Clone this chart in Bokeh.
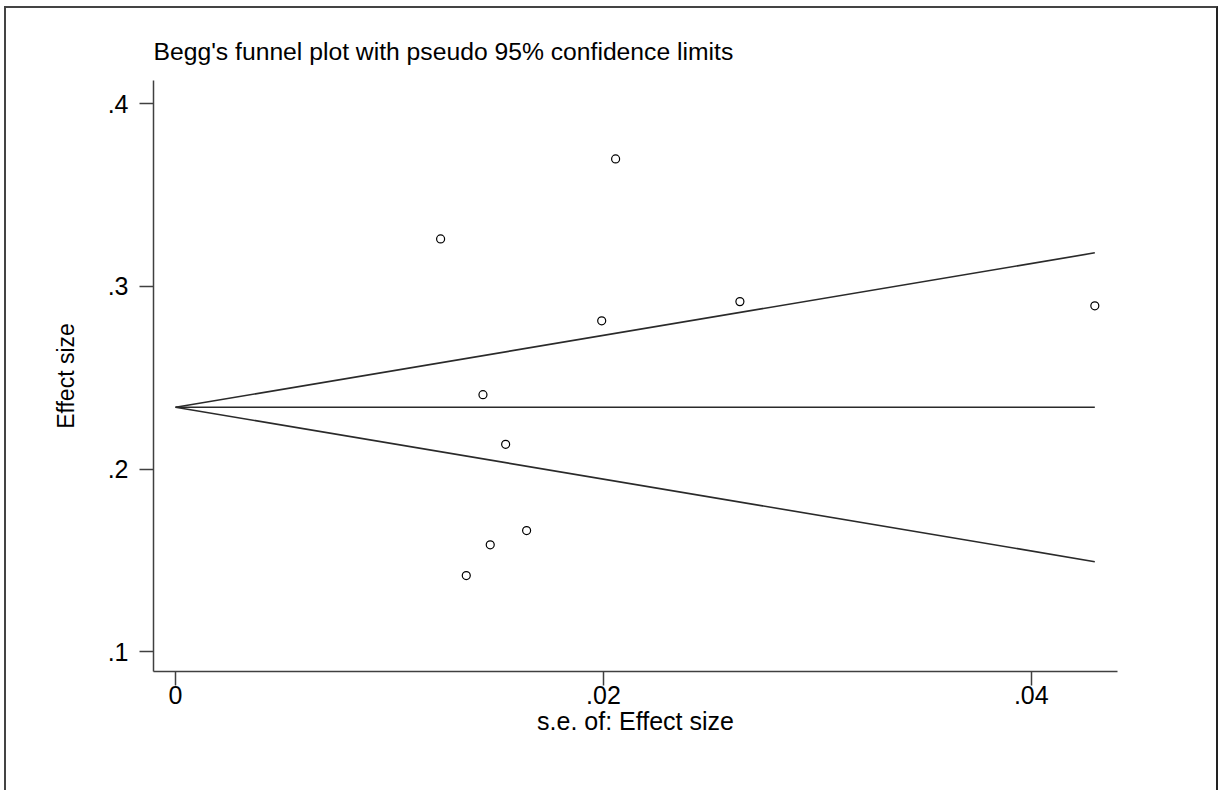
from bokeh.plotting import figure
from bokeh.models import FixedTicker, Range1d, Title, ColumnDataSource
from bokeh.embed import file_html
from bokeh.resources import INLINE

# Study data (standard error, effect size)
se = [0.01239, 0.02057, 0.01992, 0.01437, 0.01543, 0.01641, 0.01471, 0.01359, 0.02638, 0.04297]
es = [0.3259, 0.3697, 0.2811, 0.2407, 0.2135, 0.1663, 0.1585, 0.1417, 0.2916, 0.2893]

# Pooled estimate line and pseudo 95% confidence limits
line_se = [0.0, 0.04297]
pooled = [0.2338, 0.2338]
upper = [0.2338, 0.3183]
lower = [0.2338, 0.1493]

x_ticks = [0, 0.02, 0.04]
x_labels = ["0", ".02", ".04"]
y_ticks = [0.1, 0.2, 0.3, 0.4]
y_labels = [".1", ".2", ".3", ".4"]

FONT = "Liberation Sans"
AX = "#404040"

p = figure(width=1214, height=784, output_backend="svg", toolbar_location=None,
           x_range=Range1d(-0.00103, 0.04403), y_range=Range1d(0.0892, 0.4126),
           min_border_left=147, min_border_right=103, min_border_top=72, min_border_bottom=121)
p.styles = {"margin-left": "4px", "margin-top": "6px",
            "border-top": "2px solid #444444", "border-left": "2px solid #444444",
            "border-right": "2px solid #222222"}
p.outline_line_color = None
p.background_fill_color = "white"
p.border_fill_color = "white"
p.xgrid.visible = False
p.ygrid.visible = False

t = Title(text="Begg's funnel plot with pseudo 95% confidence limits", align="left",
          text_font=FONT, text_font_size="24.7px", text_font_style="normal",
          text_color="black", standoff=31)
p.add_layout(t, "above")

src = ColumnDataSource(dict(se=se, es=es))
p.line(line_se, pooled, line_color="#2a2a2a", line_width=1.6)
p.line(line_se, upper, line_color="#2a2a2a", line_width=1.6)
p.line(line_se, lower, line_color="#2a2a2a", line_width=1.6)
p.scatter("se", "es", source=src, marker="circle", size=8, fill_color=None,
          line_color="black", line_width=1.2)

for ax, ticks, labels in ((p.xaxis[0], x_ticks, x_labels), (p.yaxis[0], y_ticks, y_labels)):
    ax.ticker = FixedTicker(ticks=ticks, minor_ticks=[])
    ax.major_label_overrides = {tk: lb for tk, lb in zip(ticks, labels)}
    ax.major_label_text_font = FONT
    ax.major_label_text_font_size = "25px"
    ax.major_label_text_color = "black"
    ax.axis_line_color = AX
    ax.axis_line_width = 1.5
    ax.major_tick_line_color = AX
    ax.major_tick_line_width = 1.5
    ax.major_tick_out = 14
    ax.major_tick_in = 0
    ax.minor_tick_line_color = None
    ax.axis_label_text_font = FONT
    ax.axis_label_text_font_style = "normal"
    ax.axis_label_text_color = "black"

p.xaxis.axis_label = "s.e. of: Effect size"
p.xaxis.axis_label_text_font_size = "25px"
p.xaxis.major_label_standoff = 0
p.xaxis.axis_label_standoff = 0
p.yaxis.axis_label = "Effect size"
p.yaxis.axis_label_text_font_size = "23px"
p.yaxis.major_label_standoff = 11
p.yaxis.axis_label_standoff = 26

open("out.html", "w").write(file_html(p, INLINE))
